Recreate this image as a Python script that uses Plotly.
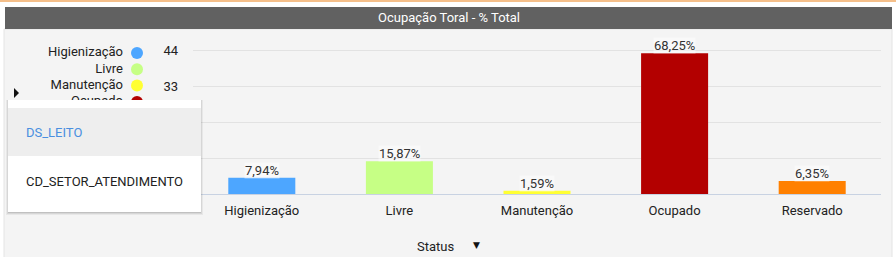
import plotly.graph_objects as go

# ---------------- data ----------------
categories = ["Higienização", "Livre", "Manutenção", "Ocupado", "Reservado"]
counts = [5, 10, 1, 43, 4]
colors = ["#4da6ff", "#c6ff85", "#ffff33", "#b30000", "#ff8000"]
y_ticks = [0, 11, 22, 33, 44]
menu_items = ["DS_LEITO", "CD_SETOR_ATENDIMENTO"]
title_text = "Ocupação Toral - % Total"
x_title = "Status"

total = sum(counts)
pct_labels = [f"{c / total * 100:.2f}%".replace(".", ",") for c in counts]

# ---------------- geometry helpers ----------------
W, H = 896, 257
PL, PR, PT, PB = 193, 881, 40, 194  # plot area in pixels
FONT = "Roboto"


def px(x):
    return x / W


def py(y):
    return 1 - y / H


fig = go.Figure()

fig.add_trace(go.Bar(
    x=categories, y=counts, marker=dict(color=colors, line=dict(width=0)),
    hoverinfo="skip", showlegend=False,
))

# legend drawn as traces on a full-figure overlay axis (pixel units) so the menu box can cover it
leg_y = [53 + 16.3 * i for i in range(len(categories))]
fig.add_trace(go.Scatter(
    x=[123] * len(categories), y=leg_y, mode="text", text=categories,
    textposition="middle left", textfont=dict(family=FONT, size=13, color="#222"),
    xaxis="x2", yaxis="y2", cliponaxis=False, hoverinfo="skip", showlegend=False,
))
fig.add_trace(go.Scatter(
    x=[137] * len(categories), y=leg_y, mode="markers",
    marker=dict(size=12, color=colors, line=dict(width=0)),
    xaxis="x2", yaxis="y2", cliponaxis=False, hoverinfo="skip", showlegend=False,
))

shapes = []
# background panel pieces
shapes.append(dict(type="rect", xref="paper", yref="paper", layer="below",
                   x0=px(0), x1=px(W), y0=py(0), y1=py(2),
                   fillcolor="#f5bf8a", line=dict(width=0)))
shapes.append(dict(type="rect", xref="paper", yref="paper", layer="below",
                   x0=px(4), x1=px(892), y0=py(29), y1=py(H + 2),
                   fillcolor="#f4f4f4", line=dict(color="#e4e4e4", width=1)))
shapes.append(dict(type="rect", xref="paper", yref="paper", layer="below",
                   x0=px(5), x1=px(892), y0=py(7), y1=py(29),
                   fillcolor="#616161", line=dict(width=0)))
# small legend pager arrow
shapes.append(dict(type="path", xref="paper", yref="paper", layer="above",
                   path=f"M {px(14)} {py(88)} L {px(19)} {py(93)} L {px(14)} {py(98)} Z",
                   fillcolor="#111", line=dict(width=0)))
# dropdown menu shadow + box
for i, a in enumerate([0.05, 0.07, 0.10]):
    off = 3 - i
    shapes.append(dict(type="rect", xref="paper", yref="paper", layer="above",
                       x0=px(8 - off + 1), x1=px(201 + off - 1), y0=py(100), y1=py(212 + off),
                       fillcolor=f"rgba(0,0,0,{a})", line=dict(width=0)))
shapes.append(dict(type="rect", xref="paper", yref="paper", layer="above",
                   x0=px(8), x1=px(201), y0=py(100), y1=py(212),
                   fillcolor="#ffffff", line=dict(width=0)))
shapes.append(dict(type="rect", xref="paper", yref="paper", layer="above",
                   x0=px(8), x1=px(201), y0=py(108), y1=py(156),
                   fillcolor="#eeeeee", line=dict(width=0)))

annotations = []
annotations.append(dict(text=title_text, xref="paper", yref="paper", x=px(448.5), y=py(18),
                        showarrow=False, xanchor="center", yanchor="middle",
                        font=dict(family=FONT, size=13, color="#ffffff")))
for cat, val, lab in zip(categories, counts, pct_labels):
    annotations.append(dict(text=lab, x=cat, y=val, xref="x", yref="y", showarrow=False,
                            xanchor="center", yanchor="bottom", yshift=-1,
                            bgcolor="rgba(255,255,255,0.45)", borderpad=0,
                            font=dict(family=FONT, size=13, color="#333")))
annotations.append(dict(text=x_title, xref="paper", yref="paper", x=px(435), y=py(246),
                        showarrow=False, xanchor="center", yanchor="middle",
                        font=dict(family=FONT, size=13, color="#222")))
annotations.append(dict(text="▼", xref="paper", yref="paper", x=px(476), y=py(245),
                        showarrow=False, xanchor="center", yanchor="middle",
                        font=dict(family="DejaVu Sans", size=9, color="#111")))
menu_colors = ["#4a8fe0", "#222"]
menu_y = [132, 181]
for item, c, yy in zip(menu_items, menu_colors, menu_y):
    annotations.append(dict(text=item, xref="paper", yref="paper", x=px(24), y=py(yy),
                            showarrow=False, xanchor="left", yanchor="middle",
                            font=dict(family=FONT, size=13, color=c)))

PH = PB - PT
fig.update_layout(
    template="none",
    width=W, height=H,
    margin=dict(l=0, r=0, t=0, b=0, pad=0, autoexpand=False),
    paper_bgcolor="#ffffff", plot_bgcolor="rgba(0,0,0,0)",
    bargap=0.513, showlegend=False,
    font=dict(family=FONT, size=13, color="#222"),
    xaxis=dict(domain=[px(PL), px(PR)], anchor="y", showgrid=False, showline=True,
               linecolor="#c8d2e2", linewidth=1, automargin=False,
               ticks="", tickfont=dict(family=FONT, size=13, color="#222"),
               ticklabelstandoff=4, fixedrange=True, zeroline=False),
    yaxis=dict(domain=[py(PB), py(PT)], anchor="x", range=[0, 44 * PH / 144],
               tickvals=y_ticks, showgrid=True, automargin=False,
               gridcolor="#e2e2e2", gridwidth=1, zeroline=False, showline=False,
               ticks="", tickfont=dict(family=FONT, size=13, color="#222"),
               ticklabelstandoff=14, fixedrange=True),
    xaxis2=dict(domain=[0, 1], range=[0, W], anchor="y2", visible=False,
                fixedrange=True, automargin=False),
    yaxis2=dict(domain=[0, 1], range=[H, 0], anchor="x2", visible=False,
                fixedrange=True, automargin=False),
    shapes=shapes, annotations=annotations,
)

fig.write_html("out.html", config={"displayModeBar": False, "staticPlot": True})
